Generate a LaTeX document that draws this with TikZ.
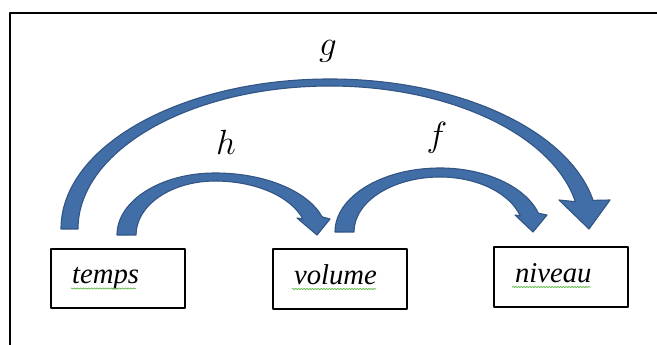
\documentclass[tikz,border=0pt]{standalone}
\usepackage{fontspec}
\newfontfamily\motfont{Liberation Serif}
\usetikzlibrary{calc,decorations.pathmorphing}
\definecolor{bleufleche}{RGB}{66,110,168}
\definecolor{bordfleche}{RGB}{50,85,132}
\definecolor{vertsouligne}{RGB}{110,190,90}

\begin{document}
\begin{tikzpicture}[x=0.025cm, y=-0.025cm, line join=round,
    boite/.style={draw, line width=1.4pt, minimum width=95.3pt, minimum height=42pt,
      inner xsep=15pt, text width=65.3pt, align=left, text height=12pt, text depth=4.9pt,
      font=\motfont\itshape\fontsize{20.4}{24}\selectfont},
    fleche/.style={fill=bleufleche, draw=bordfleche, line width=0.8pt},
    etiquette/.style={inner sep=0pt, font=\fontsize{25}{30}\selectfont},
    souligne/.style={vertsouligne, line width=0.6pt, decorate,
      decoration={snake, amplitude=0.45pt, segment length=2pt}}]
  % Cadre (coupé à droite et en bas)
  \useasboundingbox (0,0) rectangle (657,344);
  \draw[line width=1.5pt] (10.3,360) -- (10.3,12.8) -- (680,12.8);

  % Les trois grandeurs
  \node[boite] (temps) at (118,278.5) {temps};
  \node[boite] (volume) at (340,279) {volume};
  \node[boite] (niveau) at (561,277) {niveau};

  % Soulignement ondulé sous les mots
  \draw[souligne] ($(temps.base west)+(21,5)$) -- ($(temps.base west)+(86,5)$);
  \draw[souligne] ($(volume.base west)+(20,5)$) -- ($(volume.base west)+(104,5)$);
  \draw[souligne] ($(niveau.base west)+(19,5)$) -- ($(niveau.base west)+(98,5)$);

  % Flèche g : de temps à niveau (demi-ellipse de centre (330,229))
  \coordinate (gdep) at (61,229);
  \coordinate (gint) at (575.4,201.7);
  \draw[fleche] (gdep) arc[start angle=180, end angle=270, x radius=269, y radius=150]
    arc[start angle=270, end angle=349, x radius=268, y radius=150]
    -- (610,200) -- (589,229) -- (559,200) -- (gint)
    arc[start angle=349, end angle=270, x radius=250, y radius=143]
    arc[start angle=270, end angle=180, x radius=252, y radius=143] -- cycle;

  % Flèche h : de temps à volume (centre (215,235))
  \coordinate (hdep) at (117,235);
  \coordinate (hint) at (302.98,219.2);
  \draw[fleche] (hdep) arc[start angle=180, end angle=270, x radius=98, y radius=62]
    arc[start angle=270, end angle=343, x radius=112, y radius=62]
    -- (330,219) -- (317,235) -- (297,218) -- (hint)
    arc[start angle=343, end angle=270, x radius=92, y radius=54]
    arc[start angle=270, end angle=180, x radius=79, y radius=54] -- cycle;

  % Flèche f : de volume à niveau (centre (440,232))
  \coordinate (fdep) at (335,232);
  \coordinate (fint) at (520.3,215.9);
  \draw[fleche] (fdep) arc[start angle=180, end angle=270, x radius=105, y radius=64]
    arc[start angle=270, end angle=343, x radius=103, y radius=64]
    -- (547,215) -- (533,232) -- (515,215) -- (fint)
    arc[start angle=343, end angle=270, x radius=84, y radius=55]
    arc[start angle=270, end angle=180, x radius=86, y radius=55] -- cycle;

  % Noms des fonctions
  \node[etiquette] (lg) at (328,51.5) {$g$};
  \node[etiquette] (lh) at (226,142.5) {$h$};
  \node[etiquette] (lf) at (437,137.5) {$f$};
\end{tikzpicture}
\end{document}
